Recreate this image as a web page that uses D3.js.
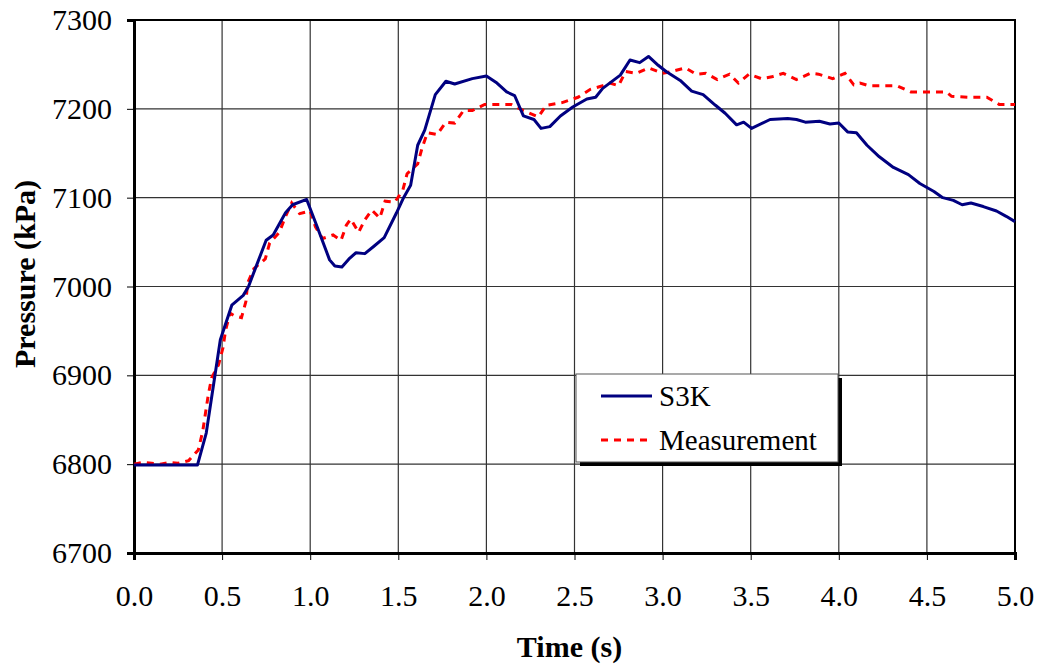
<!DOCTYPE html>
<html>
<head>
<meta charset="utf-8">
<script src="https://cdn.jsdelivr.net/npm/d3@7"></script>
<style>
  body { margin: 0; background: #fff; }
  text { font-family: "Liberation Serif", "Times New Roman", serif; }
</style>
</head>
<body>
<svg id="chart" width="1041" height="666"></svg>
<script>
// S3K simulation
var timeS3K = [0, 0.36, 0.41, 0.49, 0.555, 0.62, 0.65, 0.69, 0.75, 0.79, 0.86, 0.90, 0.98, 1.04, 1.11, 1.14, 1.18, 1.225, 1.26, 1.31, 1.36, 1.42, 1.49, 1.53, 1.57, 1.61, 1.65, 1.71, 1.77, 1.82, 1.92, 2.00, 2.06, 2.115, 2.16, 2.21, 2.27, 2.31, 2.36, 2.42, 2.49, 2.57, 2.62, 2.66, 2.76, 2.815, 2.87, 2.92, 2.975, 3.02, 3.10, 3.165, 3.23, 3.30, 3.355, 3.42, 3.46, 3.505, 3.61, 3.71, 3.76, 3.81, 3.89, 3.95, 4.00, 4.05, 4.10, 4.16, 4.23, 4.31, 4.395, 4.46, 4.54, 4.59, 4.65, 4.70, 4.75, 4.82, 4.895, 4.95, 5.0];
var pressureS3K = [6799, 6799, 6835, 6940, 6979, 6990, 7000, 7021, 7052, 7058, 7083, 7092, 7098, 7067, 7030, 7023, 7022, 7032, 7038, 7037, 7045, 7055, 7083, 7100, 7114, 7159, 7176, 7216, 7231, 7228, 7234, 7237, 7229, 7219, 7215, 7192, 7188, 7178, 7180, 7192, 7202, 7211, 7213, 7223, 7238, 7255, 7252, 7259, 7249, 7242, 7232, 7220, 7216, 7204, 7195, 7182, 7185, 7178, 7188, 7189, 7188, 7185, 7186, 7183, 7184, 7174, 7173, 7159, 7146, 7134, 7126, 7116, 7107, 7100, 7097, 7092, 7094, 7090, 7085, 7079, 7073];

// Measurement
var timeMeas = [0, 0.05, 0.1, 0.15, 0.2, 0.25, 0.31, 0.365, 0.39, 0.42, 0.44, 0.48, 0.505, 0.52, 0.545, 0.57, 0.61, 0.635, 0.645, 0.68, 0.745, 0.77, 0.825, 0.86, 0.895, 0.94, 1.0, 1.03, 1.07, 1.13, 1.175, 1.205, 1.23, 1.275, 1.31, 1.35, 1.395, 1.425, 1.48, 1.525, 1.55, 1.61, 1.635, 1.665, 1.72, 1.77, 1.82, 1.87, 1.92, 1.99, 2.10, 2.14, 2.21, 2.295, 2.34, 2.43, 2.52, 2.59, 2.66, 2.70, 2.75, 2.79, 2.85, 2.92, 3.00, 3.05, 3.13, 3.19, 3.245, 3.31, 3.38, 3.43, 3.49, 3.56, 3.62, 3.685, 3.76, 3.84, 3.885, 3.965, 4.035, 4.085, 4.12, 4.17, 4.28, 4.33, 4.41, 4.51, 4.61, 4.64, 4.735, 4.84, 4.91, 5.0];
var pressureMeas = [6800, 6802, 6801, 6800, 6802, 6801, 6804, 6816, 6837, 6876, 6897, 6912, 6931, 6951, 6970, 6967, 6965, 6983, 7004, 7020, 7031, 7049, 7061, 7079, 7094, 7082, 7085, 7067, 7054, 7058, 7052, 7069, 7076, 7061, 7075, 7086, 7077, 7096, 7095, 7108, 7127, 7138, 7156, 7173, 7171, 7185, 7184, 7198, 7198, 7205, 7205, 7205, 7198, 7191, 7204, 7207, 7213, 7222, 7226, 7229, 7226, 7242, 7240, 7246, 7240, 7242, 7246, 7239, 7240, 7233, 7239, 7229, 7239, 7234, 7236, 7240, 7233, 7240, 7239, 7234, 7240, 7227, 7229, 7226, 7226, 7226, 7219, 7219, 7219, 7214, 7213, 7213, 7205, 7205];

var xTicks = [0, 0.5, 1, 1.5, 2, 2.5, 3, 3.5, 4, 4.5, 5];
var yTicks = [6700, 6800, 6900, 7000, 7100, 7200, 7300];
var seriesNames = ["S3K", "Measurement"];

var svg = d3.select("#chart");
var margin = {left: 134, top: 20, right: 26, bottom: 113};
var width = 1041 - margin.left - margin.right;
var height = 666 - margin.top - margin.bottom;

var x = d3.scaleLinear().domain([0, 5]).range([0, width]);
var y = d3.scaleLinear().domain([6700, 7300]).range([height, 0]);

var g = svg.append("g").attr("transform", "translate(" + margin.left + "," + margin.top + ")");

// grid
g.selectAll(".hgrid").data(yTicks).enter().append("line")
  .attr("x1", 0).attr("x2", width)
  .attr("y1", d => y(d)).attr("y2", d => y(d))
  .attr("stroke", "#333").attr("stroke-width", 1.2);
g.selectAll(".vgrid").data(xTicks).enter().append("line")
  .attr("y1", 0).attr("y2", height)
  .attr("x1", d => x(d)).attr("x2", d => x(d))
  .attr("stroke", "#333").attr("stroke-width", 1.2);

g.append("rect").attr("x", 0).attr("y", 0).attr("width", width).attr("height", height)
  .attr("fill", "none").attr("stroke", "#000").attr("stroke-width", 2);

// axes
var yAxis = g.append("g").call(d3.axisLeft(y).tickValues(yTicks).tickSize(7).tickPadding(15).tickFormat(d3.format("d")));
var xAxis = g.append("g").attr("transform", "translate(0," + height + ")")
  .call(d3.axisBottom(x).tickValues(xTicks).tickSize(7).tickPadding(25).tickFormat(d3.format(".1f")));
[xAxis, yAxis].forEach(function(a) {
  a.select(".domain").attr("stroke", "#000").attr("stroke-width", 3);
  a.selectAll(".tick line").attr("stroke", "#000").attr("stroke-width", 1);
  a.selectAll(".tick text").attr("fill", "#000").style("font-size", "30px")
    .style("font-family", "'Liberation Serif', serif");
});

// lines
var lineGen = d3.line().x(d => x(d[0])).y(d => y(d[1]));
var s3k = d3.zip(timeS3K, pressureS3K);
var meas = d3.zip(timeMeas, pressureMeas);

g.append("path").datum(meas).attr("d", lineGen)
  .attr("fill", "none").attr("stroke", "#ff0000").attr("stroke-width", 3)
  .attr("stroke-dasharray", "7,6");
g.append("path").datum(s3k).attr("d", lineGen)
  .attr("fill", "none").attr("stroke", "#000080").attr("stroke-width", 3)
  .attr("stroke-linejoin", "round");

// axis titles
svg.append("text").text("Time (s)")
  .attr("x", margin.left + width / 2 - 5).attr("y", 657)
  .attr("text-anchor", "middle").style("font-size", "30px").style("font-weight", "bold");
svg.append("text").text("Pressure (kPa)")
  .attr("transform", "translate(35,274) rotate(-90)")
  .attr("text-anchor", "middle").style("font-size", "30px").style("font-weight", "bold");

// legend
var leg = svg.append("g").attr("transform", "translate(576,374)");
leg.append("rect").attr("x", 4).attr("y", 4).attr("width", 262).attr("height", 88).attr("fill", "#000");
leg.append("rect").attr("x", 0).attr("y", 0).attr("width", 262).attr("height", 88)
  .attr("fill", "#fff").attr("stroke", "#555").attr("stroke-width", 1);
var legColors = ["#000080", "#ff0000"];
var legDash = [null, "7,6"];
seriesNames.forEach(function(name, i) {
  var ly = 22 + i * 44;
  leg.append("line").attr("x1", 25).attr("x2", 76).attr("y1", ly).attr("y2", ly)
    .attr("stroke", legColors[i]).attr("stroke-width", 3).attr("stroke-dasharray", legDash[i]);
  leg.append("text").text(name).attr("x", 83).attr("y", ly + 10).style("font-size", "29px");
});
</script>
</body>
</html>
